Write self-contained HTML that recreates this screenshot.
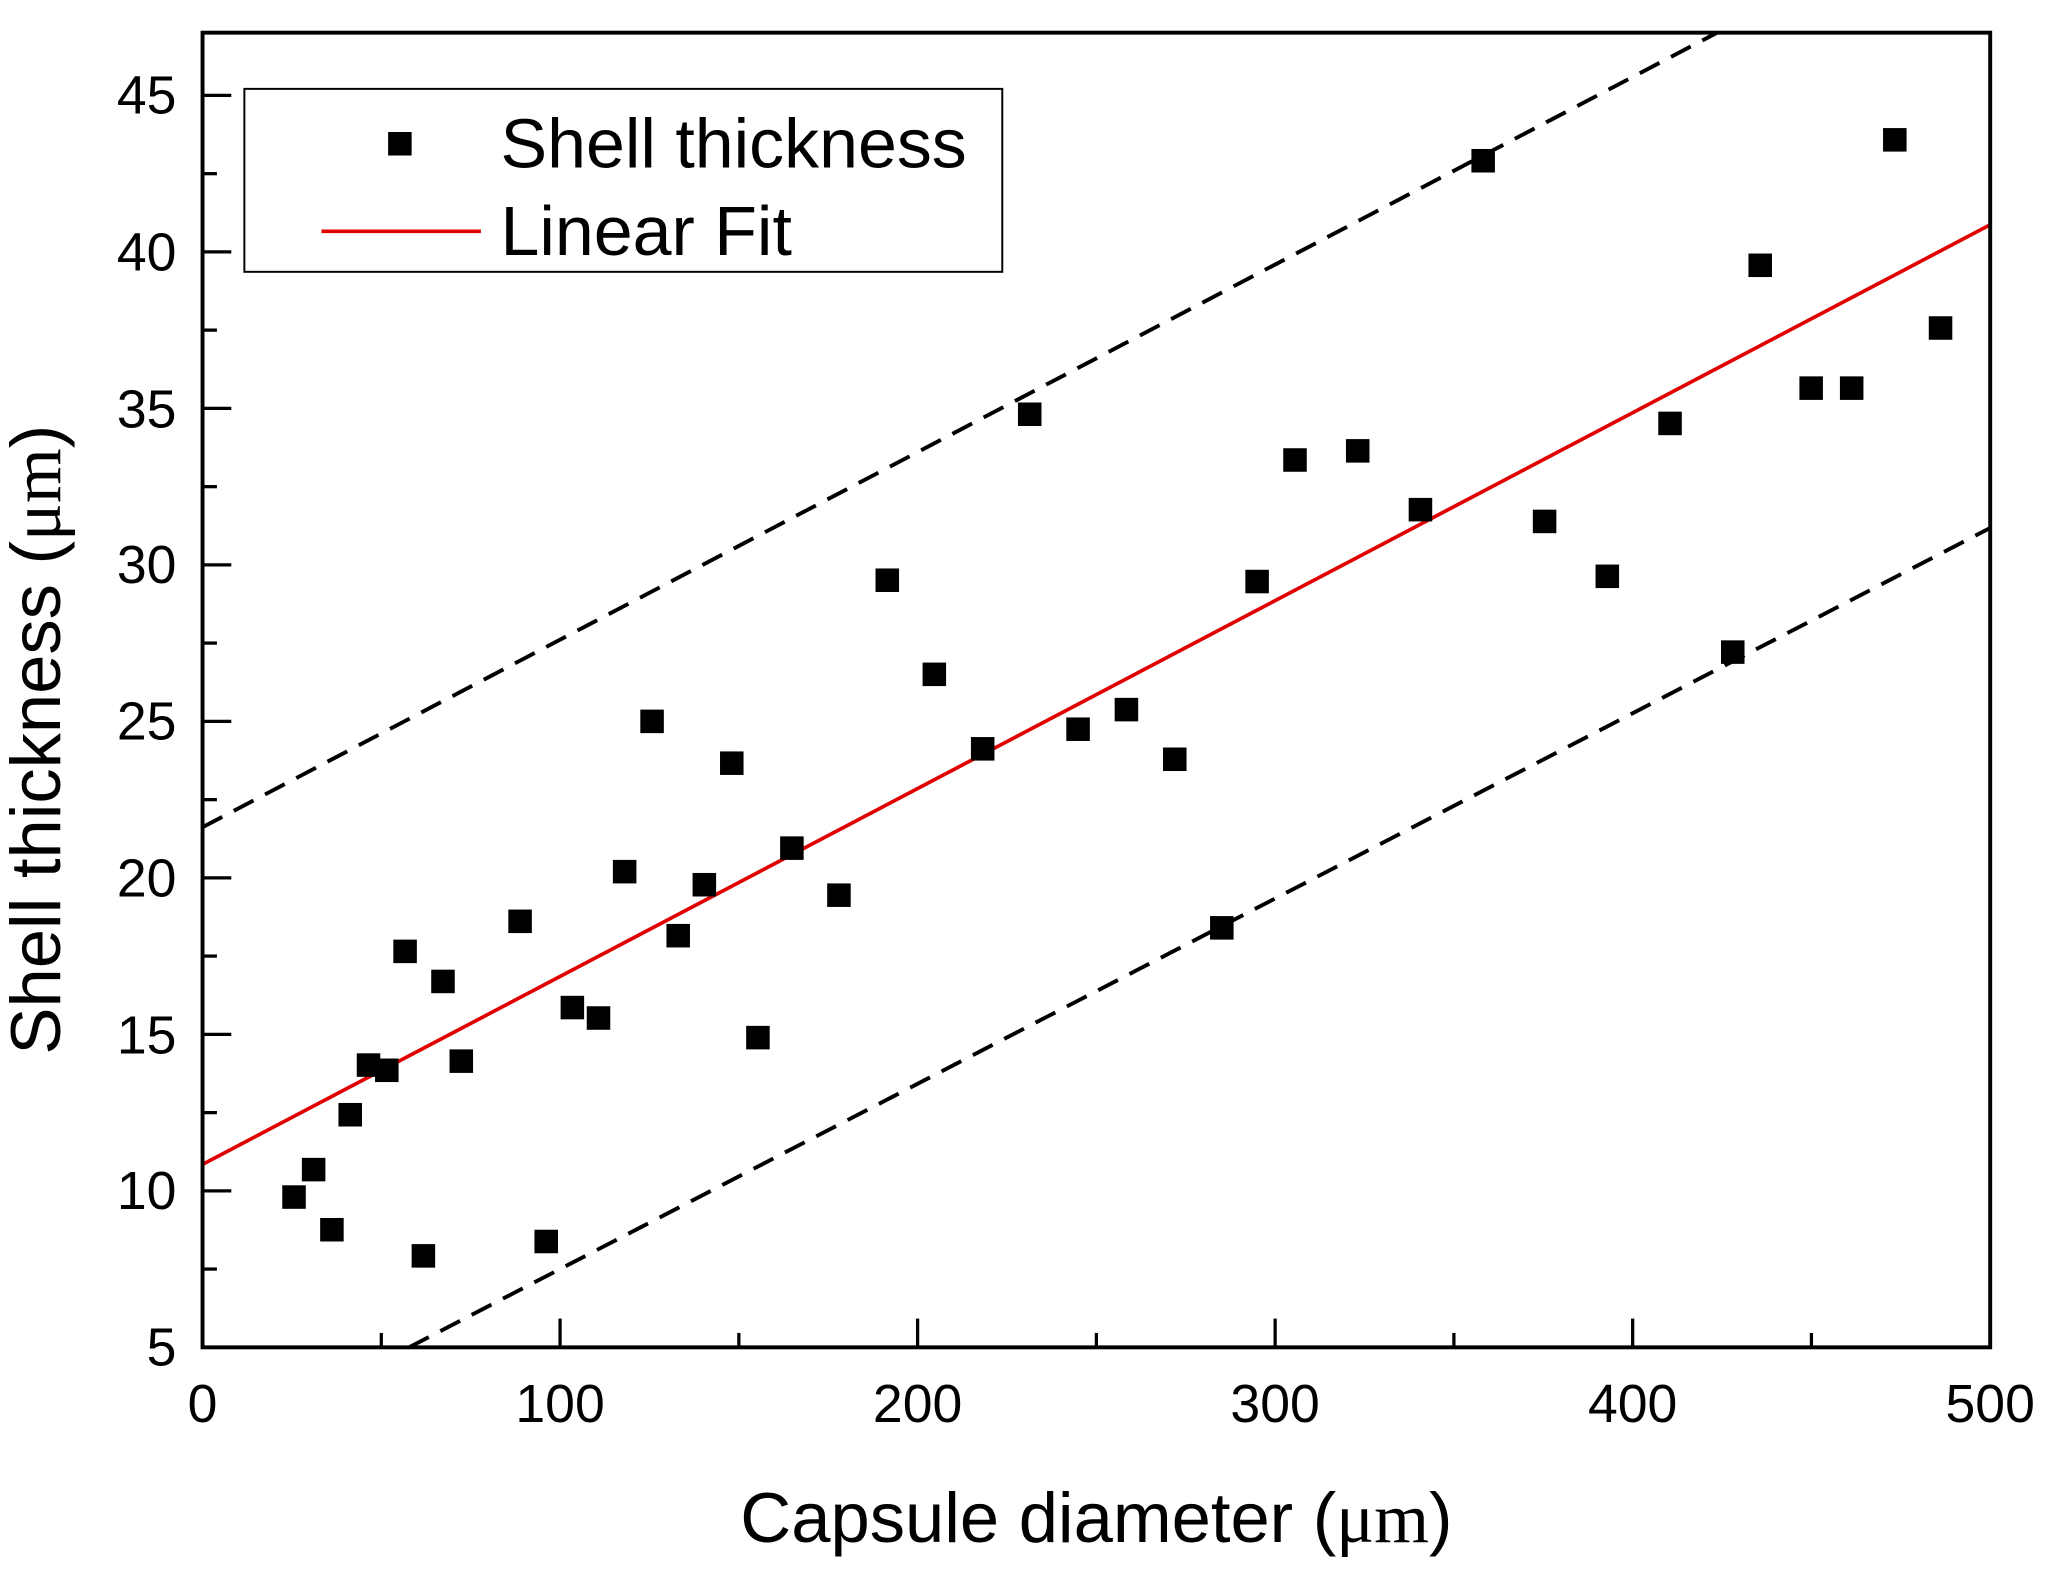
<!DOCTYPE html>
<html><head><style>html,body{margin:0;padding:0;background:#fff}svg{display:block}</style></head>
<body>
<svg width="2049" height="1578" viewBox="0 0 1568 1207.5" preserveAspectRatio="none" xmlns="http://www.w3.org/2000/svg" font-family="Liberation Sans, sans-serif">
<defs><clipPath id="c"><rect x="155" y="25" width="1368" height="1006"/></clipPath></defs>
<g clip-path="url(#c)">
<line x1="155" y1="891" x2="1523" y2="172" stroke="#e00000" stroke-width="2.8"/>
<line x1="155" y1="633" x2="1335" y2="14" stroke="#000" stroke-width="3" stroke-dasharray="17,10"/>
<line x1="313" y1="1031" x2="1523" y2="404" stroke="#000" stroke-width="3" stroke-dasharray="17,10"/>
</g>
<rect x="155" y="25" width="1368" height="1006" fill="none" stroke="#000" stroke-width="3"/>
<g stroke="#000" stroke-width="2.5">
<line x1="155" y1="73" x2="177" y2="73"/><line x1="155" y1="192.75" x2="177" y2="192.75"/><line x1="155" y1="312.5" x2="177" y2="312.5"/><line x1="155" y1="432.25" x2="177" y2="432.25"/><line x1="155" y1="552" x2="177" y2="552"/><line x1="155" y1="671.75" x2="177" y2="671.75"/><line x1="155" y1="791.5" x2="177" y2="791.5"/><line x1="155" y1="911.25" x2="177" y2="911.25"/>
<line x1="155" y1="132.9" x2="166" y2="132.9"/><line x1="155" y1="252.6" x2="166" y2="252.6"/><line x1="155" y1="372.4" x2="166" y2="372.4"/><line x1="155" y1="492.1" x2="166" y2="492.1"/><line x1="155" y1="611.9" x2="166" y2="611.9"/><line x1="155" y1="731.6" x2="166" y2="731.6"/><line x1="155" y1="851.4" x2="166" y2="851.4"/><line x1="155" y1="971.1" x2="166" y2="971.1"/>
<line x1="428.6" y1="1031" x2="428.6" y2="1009"/><line x1="702.2" y1="1031" x2="702.2" y2="1009"/><line x1="975.8" y1="1031" x2="975.8" y2="1009"/><line x1="1249.4" y1="1031" x2="1249.4" y2="1009"/>
<line x1="291.8" y1="1031" x2="291.8" y2="1020"/><line x1="565.4" y1="1031" x2="565.4" y2="1020"/><line x1="839" y1="1031" x2="839" y2="1020"/><line x1="1112.6" y1="1031" x2="1112.6" y2="1020"/><line x1="1386.2" y1="1031" x2="1386.2" y2="1020"/>
</g>
<g font-size="41" text-anchor="end">
<text x="135" y="87">45</text><text x="135" y="207">40</text><text x="135" y="327">35</text><text x="135" y="446">30</text><text x="135" y="566">25</text><text x="135" y="686">20</text><text x="135" y="806">15</text><text x="135" y="925">10</text><text x="135" y="1045">5</text>
</g>
<g font-size="41" text-anchor="middle">
<text x="155" y="1088">0</text><text x="428.6" y="1088">100</text><text x="702.2" y="1088">200</text><text x="975.8" y="1088">300</text><text x="1249.4" y="1088">400</text><text x="1523" y="1088">500</text>
</g>
<text x="839" y="1180" font-size="54" text-anchor="middle">Capsule diameter (<tspan font-family="Liberation Serif, serif">μm</tspan>)</text>
<text transform="translate(46,566) rotate(-90)" font-size="54" text-anchor="middle">Shell thickness (<tspan font-family="Liberation Serif, serif">μm</tspan>)</text>
<rect x="187" y="68" width="580" height="140" fill="#fff" stroke="#000" stroke-width="1.5"/>
<rect x="297" y="101" width="18" height="18" fill="#000"/>
<text x="383" y="128" font-size="53.5">Shell thickness</text>
<line x1="246" y1="177" x2="368" y2="177" stroke="#e00000" stroke-width="2.8"/>
<text x="383" y="195" font-size="53.5">Linear Fit</text>
<g fill="#000">
<rect x="216" y="907" width="18" height="18"/><rect x="231" y="886" width="18" height="18"/><rect x="245" y="932" width="18" height="18"/><rect x="259" y="844" width="18" height="18"/><rect x="273" y="806" width="18" height="18"/><rect x="287" y="810" width="18" height="18"/><rect x="301" y="719" width="18" height="18"/><rect x="315" y="952" width="18" height="18"/><rect x="330" y="742" width="18" height="18"/><rect x="344" y="803" width="18" height="18"/><rect x="389" y="696" width="18" height="18"/><rect x="409" y="941" width="18" height="18"/><rect x="429" y="762" width="18" height="18"/><rect x="449" y="770" width="18" height="18"/><rect x="469" y="658" width="18" height="18"/><rect x="490" y="543" width="18" height="18"/><rect x="510" y="707" width="18" height="18"/><rect x="530" y="668" width="18" height="18"/><rect x="551" y="575" width="18" height="18"/><rect x="571" y="785" width="18" height="18"/><rect x="597" y="640" width="18" height="18"/><rect x="633" y="676" width="18" height="18"/><rect x="670" y="435" width="18" height="18"/><rect x="706" y="507" width="18" height="18"/><rect x="743" y="564" width="18" height="18"/><rect x="779" y="308" width="18" height="18"/><rect x="816" y="549" width="18" height="18"/><rect x="853" y="534" width="18" height="18"/><rect x="890" y="572" width="18" height="18"/><rect x="926" y="701" width="18" height="18"/><rect x="953" y="436" width="18" height="18"/><rect x="982" y="343" width="18" height="18"/><rect x="1030" y="336" width="18" height="18"/><rect x="1078" y="381" width="18" height="18"/><rect x="1126" y="114" width="18" height="18"/><rect x="1173" y="390" width="18" height="18"/><rect x="1221" y="432" width="18" height="18"/><rect x="1269" y="315" width="18" height="18"/><rect x="1317" y="490" width="18" height="18"/><rect x="1338" y="194" width="18" height="18"/><rect x="1377" y="288" width="18" height="18"/><rect x="1408" y="288" width="18" height="18"/><rect x="1441" y="98" width="18" height="18"/><rect x="1476" y="242" width="18" height="18"/>
</g>
</svg>
</body></html>
